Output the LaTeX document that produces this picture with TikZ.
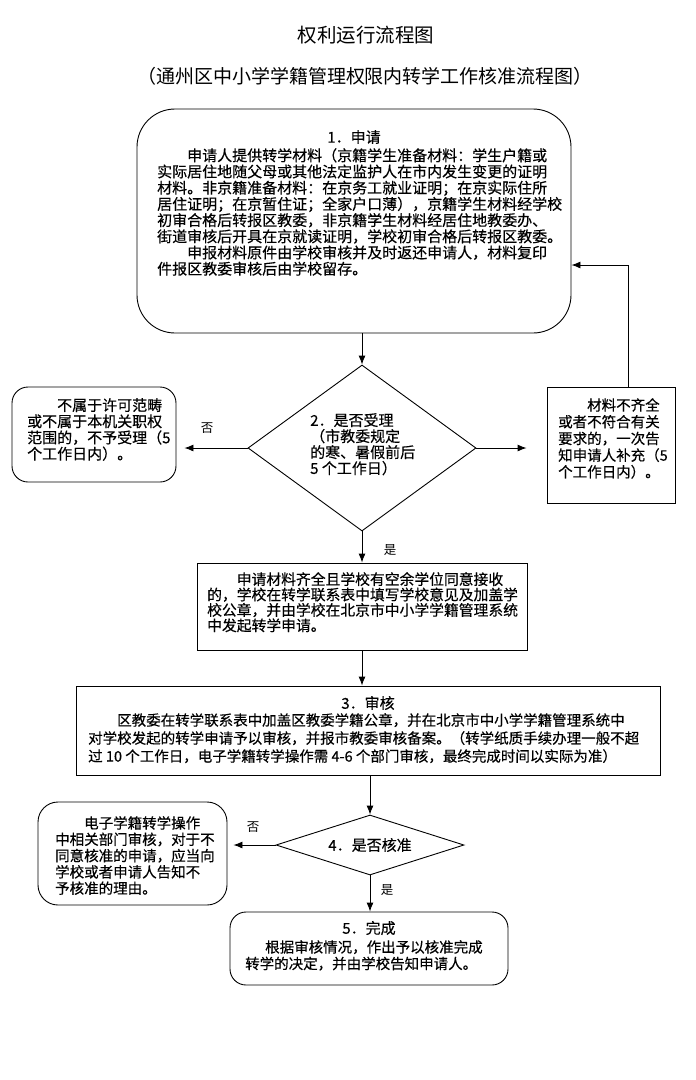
\documentclass[tikz,border=0pt]{standalone}
\usepackage{fontspec}
\setmainfont{Noto Sans CJK SC}
\newfontfamily\boxfont{Noto Sans CJK SC}[FakeBold=0.4]
\usetikzlibrary{arrows.meta,shapes.geometric}
\newcommand\fsz[2]{\fontsize{#1pt}{#2pt}\selectfont}
\begin{document}
\begin{tikzpicture}[x=1pt,y=-1pt,
    frame/.style={draw,line width=0.9pt,inner sep=0pt},
    body/.style={align=left,inner sep=0pt,anchor=north west,font=\boxfont\fsz{15}{16.2}},
    head/.style={inner sep=0pt,font=\boxfont\fsz{15}{15}},
    flow/.style={line width=0.9pt,-{Latex[length=9pt,width=7pt]}},
    tag/.style={inner sep=0pt,font=\fsz{12.5}{12.5}}]
    \useasboundingbox(0,0)rectangle(696,1080);
    \node[inner sep=0pt,font=\fsz{19.5}{19.5}](title)at(366,35){权利运行流程图};
    \node[inner sep=0pt,font=\fsz{19}{19}](subtitle)at(365,76){（通州区中小学学籍管理权限内转学工作核准流程图）};
    % 1. apply
    \node[frame,rounded corners=38pt,minimum width=434pt,minimum height=224pt](apply)at(354,221){};
    \node[head](applyhead)at(354,137){1．申请};
    \node[body](applytext)at(157,148){　　申请人提供转学材料（京籍学生准备材料：学生户籍或\\实际居住地随父母或其他法定监护人在市内发生变更的证明\\材料。非京籍准备材料：在京务工就业证明；在京实际住所\\居住证明；在京暂住证；全家户口薄），京籍学生材料经学校\\初审合格后转报区教委，非京籍学生材料经居住地教委办、\\街道审核后开具在京就读证明，学校初审合格后转报区教委。\\　　申报材料原件由学校审核并及时返还申请人，材料复印\\件报区教委审核后由学校留存。};
    % 2. accept or not
    \node[frame,diamond,minimum width=228pt,minimum height=166pt](accept)at(362,448){};
    \node[body,font=\boxfont\fsz{15}{16}](accepttext)at(310,413){2．是否受理\\（市教委规定\\的寒、暑假前后\\5 个工作日）};
    \node[frame,rounded corners=16pt,minimum width=164pt,minimum height=95pt](reject)at(94,434.5){};
    \node[body](rejecttext)at(27,398){　　不属于许可范畴\\或不属于本机关职权\\范围的，不予受理（5\\个工作日内）。};
    \node[frame,minimum width=128pt,minimum height=116pt](supply)at(611,445){};
    \node[body,font=\boxfont\fsz{14.5}{16.7}](supplytext)at(558,398){　　材料不齐全\\或者不符合有关\\要求的，一次告\\知申请人补充（5\\个工作日内）。};
    \node[frame,minimum width=330pt,minimum height=87pt](approve)at(362,606.5){};
    \node[body,font=\boxfont\fsz{14.8}{15.4}](approvetext)at(207,572){　　申请材料齐全且学校有空余学位同意接收\\的，学校在转学联系表中填写学校意见及加盖学\\校公章，并由学校在北京市中小学学籍管理系统\\中发起转学申请。};
    % 3. review
    \node[frame,minimum width=584pt,minimum height=89pt](review)at(368,730.5){};
    \node[head](reviewhead)at(368,703){3．审核};
    \node[body,font=\boxfont\fsz{14.5}{18}](reviewtext)at(88,713){　　区教委在转学联系表中加盖区教委学籍公章，并在北京市中小学学籍管理系统中\\对学校发起的转学申请予以审核，并报市教委审核备案。（转学纸质手续办理一般不超\\过 10 个工作日，电子学籍转学操作需 4-6 个部门审核，最终完成时间以实际为准）};
    % 4. check
    \node[frame,diamond,minimum width=188pt,minimum height=60pt](check)at(370,845){};
    \node[head](checktext)at(370,845){4．是否核准};
    \node[frame,rounded corners=20pt,minimum width=189pt,minimum height=103pt](deny)at(132.5,853.5){};
    \node[body,font=\boxfont\fsz{14.5}{16.3}](denytext)at(55,816){　　电子学籍转学操作\\中相关部门审核，对于不\\同意核准的申请，应当向\\学校或者申请人告知不\\予核准的理由。};
    % 5. done
    \node[frame,rounded corners=16pt,minimum width=278pt,minimum height=73pt](done)at(369,948.5){};
    \node[head](donehead)at(369,928){5．完成};
    \node[body,font=\boxfont\fsz{14.5}{16.5}](donetext)at(245,940){\hspace*{20pt}根据审核情况，作出予以核准完成\\转学的决定，并由学校告知申请人。};
    \coordinate(back)at(628,265);
    \draw[flow](apply.south -| accept.north)--(accept.north);
    \draw[flow,shorten >=8pt](accept.west)--(accept.west -| reject.east);
    \draw[flow,shorten >=20pt](accept.east)--(accept.east -| supply.west);
    \draw[flow](back |- supply.north)--(back)--(back -| apply.east);
    \draw[flow](accept.south)--(approve.north);
    \draw[flow](approve.south)--(approve.south |- review.north);
    \draw[flow](review.south -| check.north)--(check.north);
    \draw[flow,shorten >=6pt](check.west)--(check.west -| deny.east);
    \draw[flow](check.south)--(check.south |- done.north);
    \node[tag](no1)at(207,428){否};
    \node[tag](yes1)at(390,550){是};
    \node[tag](no2)at(253,827){否};
    \node[tag](yes2)at(387,890){是};
\end{tikzpicture}
\end{document}
